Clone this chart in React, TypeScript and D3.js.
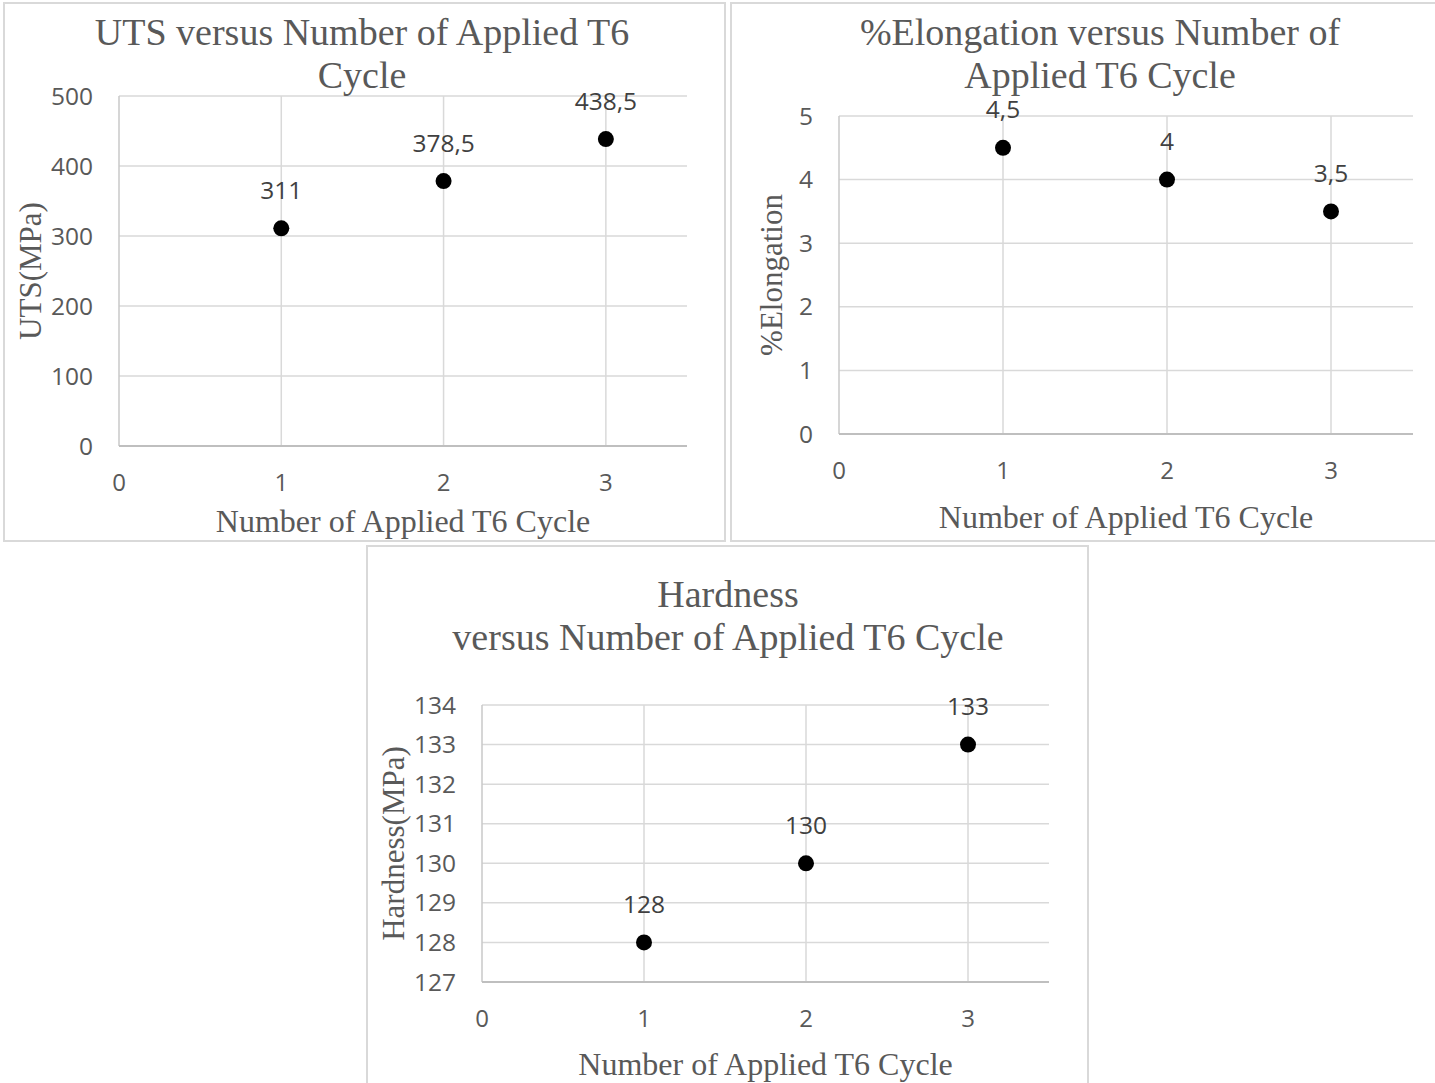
import React from "react";
import { useRef, useEffect } from "react";
import * as d3 from "d3";

// values
const cycles = [1, 2, 3];
const xTicks = [0, 1, 2, 3];
const utsValues = [311, 378.5, 438.5];
const utsTicks = [0, 100, 200, 300, 400, 500];
const elongationValues = [4.5, 4, 3.5];
const elongationTicks = [0, 1, 2, 3, 4, 5];
const hardnessValues = [128, 130, 133];
const hardnessTicks = [127, 128, 129, 130, 131, 132, 133, 134];

const serif = "'Liberation Serif', 'Times New Roman', serif";
const sans = "'Open Sans', 'Noto Sans', sans-serif";
const textColor = "#595959";
const gridColor = "#d9d9d9";

const panels = [
  {
    box: [4, 3, 721, 538],
    plot: { left: 119, right: 687, top: 96, bottom: 446 },
    yDomain: [0, 500],
    yTicks: utsTicks,
    values: utsValues,
    title: ["UTS versus Number of Applied T6", "Cycle"],
    titleX: 362,
    titleY: 32,
    xTitle: "Number of Applied T6 Cycle",
    xTitleY: 521,
    yTitle: "UTS(MPa)",
    yTitleX: 30,
  },
  {
    box: [731, 3, 710, 538],
    plot: { left: 839, right: 1413, top: 116, bottom: 434 },
    yDomain: [0, 5],
    yTicks: elongationTicks,
    values: elongationValues,
    title: ["%Elongation versus Number of", "Applied T6 Cycle"],
    titleX: 1100,
    titleY: 32,
    xTitle: "Number of Applied T6 Cycle",
    xTitleY: 517,
    yTitle: "%Elongation",
    yTitleX: 771,
  },
  {
    box: [367, 546, 721, 560],
    plot: { left: 482, right: 1049, top: 705, bottom: 982 },
    yDomain: [127, 134],
    yTicks: hardnessTicks,
    values: hardnessValues,
    title: ["Hardness", "versus Number of Applied T6 Cycle"],
    titleX: 728,
    titleY: 594,
    xTitle: "Number of Applied T6 Cycle",
    xTitleY: 1064,
    yTitle: "Hardness(MPa)",
    yTitleX: 393,
  },
];

export default function App() {
  const svgRef = useRef(null);

  useEffect(() => {
    const svg = d3.select(svgRef.current);
    svg.selectAll("*").remove();

    panels.forEach((p) => {
      const g = svg.append("g");
      const x = d3.scaleLinear().domain([0, 3.5]).range([p.plot.left, p.plot.right]);
      const y = d3.scaleLinear().domain(p.yDomain).range([p.plot.bottom, p.plot.top]);

      g.append("rect")
        .attr("x", p.box[0])
        .attr("y", p.box[1])
        .attr("width", p.box[2])
        .attr("height", p.box[3])
        .attr("fill", "#fff")
        .attr("stroke", gridColor)
        .attr("stroke-width", 2);

      // horizontal grid
      g.selectAll(".hgrid")
        .data(p.yTicks.slice(1))
        .enter()
        .append("line")
        .attr("x1", x(0))
        .attr("x2", x(3.5))
        .attr("y1", (d) => y(d))
        .attr("y2", (d) => y(d))
        .attr("stroke", gridColor)
        .attr("stroke-width", 1.5);

      // vertical grid
      g.selectAll(".vgrid")
        .data(cycles)
        .enter()
        .append("line")
        .attr("x1", (d) => x(d))
        .attr("x2", (d) => x(d))
        .attr("y1", y(p.yDomain[1]))
        .attr("y2", y(p.yDomain[0]))
        .attr("stroke", gridColor)
        .attr("stroke-width", 1.5);

      // axes
      g.append("line")
        .attr("x1", x(0))
        .attr("x2", x(0))
        .attr("y1", y(p.yDomain[1]))
        .attr("y2", y(p.yDomain[0]))
        .attr("stroke", "#c8c8c8")
        .attr("stroke-width", 1.5);
      g.append("line")
        .attr("x1", x(0))
        .attr("x2", x(3.5))
        .attr("y1", y(p.yDomain[0]))
        .attr("y2", y(p.yDomain[0]))
        .attr("stroke", "#bfbfbf")
        .attr("stroke-width", 2);

      // tick labels
      g.selectAll(".ytick")
        .data(p.yTicks)
        .enter()
        .append("text")
        .attr("x", x(0) - 26)
        .attr("y", (d) => y(d))
        .attr("dy", "0.35em")
        .attr("text-anchor", "end")
        .attr("font-family", sans)
        .attr("font-size", 24.5)
        .attr("fill", textColor)
        .text((d) => d);

      g.selectAll(".xtick")
        .data(xTicks)
        .enter()
        .append("text")
        .attr("x", (d) => x(d))
        .attr("y", y(p.yDomain[0]) + 37)
        .attr("dy", "0.35em")
        .attr("text-anchor", "middle")
        .attr("font-family", sans)
        .attr("font-size", 24)
        .attr("fill", textColor)
        .text((d) => d);

      // titles
      g.selectAll(".title")
        .data(p.title)
        .enter()
        .append("text")
        .attr("x", p.titleX)
        .attr("y", (d, i) => p.titleY + i * 43)
        .attr("dy", "0.35em")
        .attr("text-anchor", "middle")
        .attr("font-family", serif)
        .attr("font-size", 38)
        .attr("fill", textColor)
        .text((d) => d);

      g.append("text")
        .attr("x", (p.plot.left + p.plot.right) / 2)
        .attr("y", p.xTitleY)
        .attr("dy", "0.35em")
        .attr("text-anchor", "middle")
        .attr("font-family", serif)
        .attr("font-size", 32)
        .attr("fill", textColor)
        .text(p.xTitle);

      g.append("text")
        .attr(
          "transform",
          `translate(${p.yTitleX},${(p.plot.top + p.plot.bottom) / 2}) rotate(-90)`
        )
        .attr("dy", "0.35em")
        .attr("text-anchor", "middle")
        .attr("font-family", serif)
        .attr("font-size", 31)
        .attr("fill", textColor)
        .text(p.yTitle);

      // points and labels
      g.selectAll(".pt")
        .data(p.values)
        .enter()
        .append("circle")
        .attr("cx", (d, i) => x(cycles[i]))
        .attr("cy", (d) => y(d))
        .attr("r", 8)
        .attr("fill", "#000");

      g.selectAll(".lbl")
        .data(p.values)
        .enter()
        .append("text")
        .attr("x", (d, i) => x(cycles[i]))
        .attr("y", (d) => y(d) - 38)
        .attr("dy", "0.35em")
        .attr("text-anchor", "middle")
        .attr("font-family", sans)
        .attr("font-size", 24.5)
        .attr("fill", "#404040")
        .text((d) => String(d).replace(".", ","));
    });
  }, []);

  return (
    <svg
      ref={svgRef}
      width={1435}
      height={1083}
      style={{ position: "absolute", left: 0, top: 0, background: "#fff" }}
    />
  );
}
